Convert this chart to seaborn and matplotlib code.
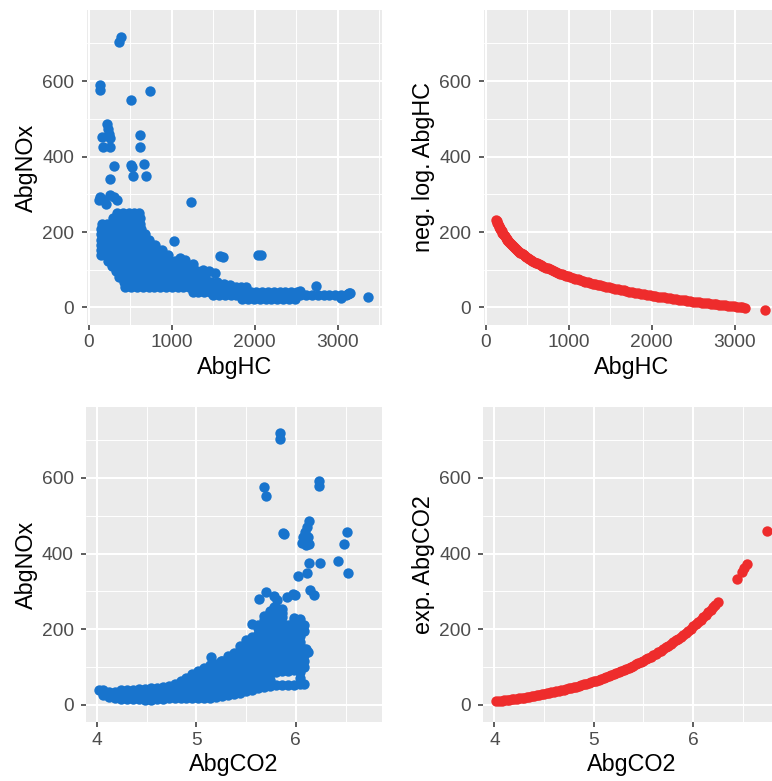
import matplotlib
matplotlib.use("Agg")
import matplotlib.pyplot as plt
from matplotlib.ticker import MultipleLocator
import pandas as pd
import seaborn as sns

# ---------------------------------------------------------------------------
# AbgHC vs AbgNOx: the dense band, written row by row (one NOx level per row)
# ---------------------------------------------------------------------------
hc_band_nox = [250, 236, 222, 208, 194, 180, 166, 152, 138, 124, 110, 96, 82, 68, 54, 40, 32, 22]
hc_band_hc = [
    [340, 410, 480, 550, 600],
    [290, 350, 420, 490, 560, 620],
    [160, 220, 280, 340, 410, 480, 550, 620],
    [150, 210, 270, 340, 410, 480, 550, 630],
    [150, 210, 270, 340, 410, 480, 550, 620, 680],
    [150, 210, 270, 340, 410, 480, 550, 620, 690, 730],
    [150, 210, 270, 340, 410, 480, 550, 620, 690, 760, 800],
    [150, 210, 270, 340, 410, 480, 550, 620, 690, 760, 830, 880],
    [150, 210, 270, 340, 410, 480, 550, 620, 690, 760, 830, 900, 960],
    [230, 290, 350, 410, 480, 550, 620, 690, 760, 830, 900, 970, 1040, 1100],
    [280, 340, 410, 480, 550, 620, 690, 760, 830, 900, 970, 1040, 1110, 1180],
    [330, 400, 470, 540, 610, 680, 750, 820, 890, 960, 1030, 1100, 1170, 1240, 1300],
    [370, 440, 510, 580, 650, 720, 790, 860, 930, 1000, 1070, 1140, 1210, 1280, 1350, 1400],
    [420, 490, 560, 630, 700, 770, 840, 910, 980, 1050, 1120, 1190, 1260, 1330, 1400, 1470, 1540],
    [440, 510, 580, 650, 720, 790, 860, 930, 1000, 1070, 1140, 1210, 1280, 1350, 1420,
     1490, 1560, 1630, 1700, 1770, 1840, 1900],
    [1250, 1320, 1390, 1460, 1530, 1600, 1670, 1740, 1810, 1880, 1950, 2020, 2090, 2160,
     2230, 2300, 2370, 2440, 2510],
    [1500, 1570, 1640, 1710, 1780, 1850, 1920, 1990, 2060, 2130, 2200, 2270, 2340, 2410,
     2480, 2550, 2620, 2690, 2760, 2830, 2900, 2970, 3040, 3100],
    [1850, 1920, 1990, 2060, 2130, 2200, 2270, 2340, 2410, 2480],
]

# AbgHC vs AbgNOx: scattered observations away from the band
hc_extra_hc = [388, 368, 132, 132, 512, 736, 220, 228, 240, 160, 260, 172, 252, 612, 620,
               300, 508, 520, 532, 668, 692, 252, 140, 120, 180, 260, 300, 340, 212, 1236,
               1028, 1580, 1620, 2040, 2080, 2740, 3368, 3132, 1100, 1160, 1260, 1380, 1450,
               1520, 1560, 1630, 1700, 2540, 3040, 3120, 3150]
hc_extra_nox = [718, 703, 589, 577, 551, 574, 485, 474, 461, 452, 448, 425, 425, 456, 425,
                374, 377, 371, 348, 380, 348, 340, 293, 285, 285, 298, 293, 285, 274, 280,
                177, 137, 133, 139, 139, 57, 29, 38, 132, 126, 114, 100, 96,
                92, 62, 62, 60, 44, 26, 36, 38]

# ---------------------------------------------------------------------------
# AbgCO2 vs AbgNOx: the dense band, written column by column
# ---------------------------------------------------------------------------
co2_band_co2 = [4.02, 4.06, 4.12, 4.18, 4.24, 4.30, 4.36, 4.42, 4.48, 4.54, 4.60, 4.66,
                4.72, 4.78, 4.84, 4.90, 4.96, 5.02, 5.08, 5.14, 5.20, 5.26, 5.32, 5.38,
                5.44, 5.50, 5.56, 5.62, 5.68, 5.74, 5.80, 5.86, 5.92, 5.98, 6.04, 6.08]
co2_band_nox = [
    [40],
    [26, 38],
    [20, 34],
    [18, 34],
    [16, 32, 38],
    [16, 32, 40],
    [14, 30, 40],
    [14, 30, 42],
    [13, 29, 42],
    [13, 29, 43],
    [14, 30, 44],
    [16, 32, 46],
    [18, 34, 50],
    [18, 34, 50, 56],
    [18, 34, 50, 62],
    [18, 34, 50, 66, 72],
    [18, 34, 50, 66, 80],
    [18, 34, 50, 66, 82, 90],
    [18, 34, 50, 66, 82, 96],
    [19, 35, 51, 67, 83, 99, 104],
    [20, 36, 52, 68, 84, 100, 108],
    [22, 38, 54, 70, 86, 102, 116],
    [25, 41, 57, 73, 89, 105, 121, 128],
    [28, 44, 60, 76, 92, 108, 124, 138],
    [32, 48, 64, 80, 96, 112, 128, 144, 156],
    [36, 52, 68, 84, 100, 116, 132, 148, 164, 170],
    [40, 56, 72, 88, 104, 120, 136, 152, 168, 178, 214],
    [44, 60, 76, 92, 108, 124, 140, 156, 172, 188, 204, 212],
    [48, 64, 80, 96, 112, 128, 144, 160, 176, 192, 208, 224, 236],
    [50, 66, 82, 98, 114, 130, 146, 162, 178, 194, 210, 226, 242, 248],
    [51, 86, 102, 118, 134, 150, 166, 182, 198, 214, 230, 246, 256],
    [52, 88, 104, 120, 136, 152, 168, 184, 200, 216, 232, 242],
    [52, 90, 106, 122, 138, 154, 170, 186, 202, 212],
    [53, 92, 108, 124, 140, 156, 172, 188, 204, 222, 230],
    [54, 70, 86, 102, 118, 134, 150, 166, 182, 198, 214, 226],
    [56, 100, 116, 132, 148, 196, 212],
]

# AbgCO2 vs AbgNOx: scattered observations away from the band
co2_extra_co2 = [5.836, 5.836, 5.682, 5.702, 6.238, 6.238, 5.883, 5.875, 6.519, 6.486,
                 6.429, 6.529, 6.245, 6.137, 6.110, 6.020, 6.137, 6.117, 6.094, 6.077,
                 6.127, 6.060, 6.104, 6.137, 6.144, 6.178, 5.625, 5.698, 5.782, 5.809,
                 5.910, 5.970, 5.990, 5.146, 5.246, 5.776, 5.860, 6.100, 6.120]
co2_extra_nox = [718, 703, 576, 553, 591, 579, 452, 455, 458, 425,
                 380, 349, 374, 374, 349, 341, 487, 471, 458, 445,
                 445, 429, 423, 425, 303, 290, 281, 299, 287, 276,
                 285, 292, 290, 126, 117, 259, 254, 148, 140]

# ---------------------------------------------------------------------------
# Transformed predictors on the NOx scale
# ---------------------------------------------------------------------------
neglog_hc = [126, 133, 140, 147, 155, 162, 170, 177, 185, 192, 200, 210, 220, 230, 240,
             250, 260, 270, 280, 290, 300, 312, 325, 337, 350, 362, 375, 387, 400, 415,
             430, 445, 460, 475, 490, 505, 520, 540, 560, 580, 600, 620, 640, 660, 680,
             700, 720, 745, 770, 795, 820, 845, 870, 895, 920, 945, 970, 995, 1020, 1050,
             1080, 1110, 1140, 1170, 1200, 1230, 1260, 1290, 1320, 1350, 1380, 1415, 1450,
             1485, 1520, 1555, 1590, 1625, 1660, 1695, 1730, 1765, 1800, 1835, 1870, 1905,
             1940, 1975, 2010, 2045, 2080, 2115, 2150, 2185, 2220, 2255, 2290, 2325, 2360,
             2395, 2430, 2465, 2500, 2535, 2570, 2605, 2640, 2675, 2710, 2745, 2780, 2815,
             2850, 2885, 2920, 2955, 2990, 3025, 3060, 3093, 3126, 3366]
neglog_val = [232.0, 228.1, 224.4, 220.8, 217.0, 213.8, 210.3, 207.4, 204.2, 201.5, 198.5,
              195.0, 191.6, 188.4, 185.3, 182.4, 179.5, 176.8, 174.2, 171.6, 169.2, 166.3,
              163.4, 160.7, 158.0, 155.5, 153.0, 150.7, 148.3, 145.6, 143.1, 140.6, 138.2,
              135.9, 133.6, 131.4, 129.3, 126.6, 123.9, 121.4, 118.9, 116.6, 114.3, 112.0,
              109.9, 107.8, 105.7, 103.3, 100.9, 98.6, 96.3, 94.1, 92.0, 90.0, 88.0, 86.0,
              84.1, 82.3, 80.5, 78.4, 76.4, 74.4, 72.4, 70.6, 68.7, 66.9, 65.2, 63.5, 61.8,
              60.2, 58.6, 56.8, 55.0, 53.3, 51.6, 49.9, 48.3, 46.8, 45.2, 43.7, 42.2, 40.8,
              39.4, 38.0, 36.6, 35.2, 33.9, 32.6, 31.4, 30.1, 28.9, 27.7, 26.5, 25.3, 24.2,
              23.0, 21.9, 20.8, 19.7, 18.7, 17.6, 16.6, 15.6, 14.5, 13.6, 12.6, 11.6, 10.6,
              9.7, 8.8, 7.9, 7.0, 6.1, 5.2, 4.3, 3.4, 2.6, 1.7, 0.9, 0.1, -0.6, -6.0]

exp_co2 = [4.017, 4.05, 4.075, 4.10, 4.125, 4.15, 4.175, 4.20, 4.225, 4.25, 4.275, 4.30,
           4.325, 4.35, 4.375, 4.40, 4.425, 4.45, 4.475, 4.50, 4.525, 4.55, 4.575, 4.60,
           4.625, 4.65, 4.675, 4.70, 4.725, 4.75, 4.775, 4.80, 4.825, 4.85, 4.875, 4.90,
           4.925, 4.95, 4.975, 5.00, 5.025, 5.05, 5.075, 5.10, 5.125, 5.15, 5.175, 5.20,
           5.225, 5.25, 5.275, 5.30, 5.325, 5.35, 5.375, 5.40, 5.425, 5.45, 5.475, 5.50,
           5.525, 5.55, 5.575, 5.60, 5.625, 5.65, 5.675, 5.70, 5.725, 5.75, 5.775, 5.80,
           5.825, 5.85, 5.875, 5.90, 5.925, 5.95, 5.975, 6.00, 6.025, 6.05, 6.075, 6.10,
           6.125, 6.15, 6.175, 6.20, 6.222, 6.246, 6.438, 6.49, 6.515, 6.542, 6.744]
exp_val = [8.8, 9.8, 10.6, 11.5, 12.4, 13.3, 14.2, 15.1, 16.1, 17.1, 18.1, 19.1,
           20.2, 21.3, 22.4, 23.5, 24.7, 25.9, 27.1, 28.4, 29.7, 31.0, 32.4, 33.8,
           35.2, 36.7, 38.2, 39.8, 41.4, 43.0, 44.7, 46.4, 48.1, 49.9, 51.8, 53.6,
           55.6, 57.6, 59.6, 61.7, 63.8, 66.0, 68.3, 70.6, 73.0, 75.4, 77.9, 80.4,
           83.0, 85.7, 88.5, 91.3, 94.2, 97.1, 100.2, 103.3, 106.5, 109.8, 113.1, 116.6,
           120.1, 123.7, 127.4, 131.2, 135.1, 139.1, 143.2, 147.5, 151.8, 156.2, 160.7, 165.4,
           170.1, 175.0, 180.0, 185.2, 190.4, 195.8, 201.4, 207.1, 212.9, 218.8, 225.0, 231.2,
           237.7, 244.3, 251.0, 258.0, 264.2, 270.9, 333.2, 352.2, 361.7, 372.2, 460.7]

BLUE = "#1874CD"
RED = "#EE2C2C"


def expand(levels, rows):
    """Repeat each level once per value in its row; return (levels, values)."""
    rep, vals = [], []
    for lev, row in zip(levels, rows):
        for v in row:
            rep.append(lev)
            vals.append(v)
    return rep, vals


hc_rep_nox, hc_vals = expand(hc_band_nox, hc_band_hc)
hc_df = pd.DataFrame({"AbgHC": hc_vals + hc_extra_hc,
                      "AbgNOx": hc_rep_nox + hc_extra_nox})

co2_rep, co2_nox_vals = expand(co2_band_co2, co2_band_nox)
co2_df = pd.DataFrame({"AbgCO2": co2_rep + co2_extra_co2,
                       "AbgNOx": co2_nox_vals + co2_extra_nox})

neglog_df = pd.DataFrame({"AbgHC": neglog_hc, "neg. log. AbgHC": neglog_val})
exp_df = pd.DataFrame({"AbgCO2": exp_co2, "exp. AbgCO2": exp_val})

sns.set_theme(style="darkgrid")
plt.rcParams["font.family"] = ["Liberation Sans", "DejaVu Sans"]

W, H = 772, 781
fig = plt.figure(figsize=(W / 100, H / 100), dpi=100)
fig.patch.set_facecolor("white")


def panel(left, top, width, height):
    return fig.add_axes([left / W, (H - top - height) / H, width / W, height / H])


ax_tl = panel(86.7, 10, 295, 315)
ax_tr = panel(483.7, 10, 295, 315)
ax_bl = panel(86.0, 406.7, 296, 315.6)
ax_br = panel(483.3, 406.7, 296, 315.6)

YLIM = (-46.5, 788.5)
MS = 56

sns.scatterplot(data=hc_df, x="AbgHC", y="AbgNOx", ax=ax_tl, color=BLUE, s=MS,
                linewidth=0, alpha=1)
sns.scatterplot(data=neglog_df, x="AbgHC", y="neg. log. AbgHC", ax=ax_tr, color=RED,
                s=MS, linewidth=0, alpha=1)
sns.scatterplot(data=co2_df, x="AbgCO2", y="AbgNOx", ax=ax_bl, color=BLUE, s=MS,
                linewidth=0, alpha=1)
sns.scatterplot(data=exp_df, x="AbgCO2", y="exp. AbgCO2", ax=ax_br, color=RED, s=MS,
                linewidth=0, alpha=1)

for ax in (ax_tl, ax_tr):
    ax.set_xlim(-25, 3530)
    ax.xaxis.set_major_locator(MultipleLocator(1000))
    ax.xaxis.set_minor_locator(MultipleLocator(500))
for ax in (ax_bl, ax_br):
    ax.set_xlim(3.889, 6.867)
    ax.xaxis.set_major_locator(MultipleLocator(1))
    ax.xaxis.set_minor_locator(MultipleLocator(0.5))

for ax in (ax_tl, ax_tr, ax_bl, ax_br):
    ax.set_ylim(*YLIM)
    ax.yaxis.set_major_locator(MultipleLocator(200))
    ax.yaxis.set_minor_locator(MultipleLocator(100))
    ax.set_facecolor("#EBEBEB")
    for sp in ax.spines.values():
        sp.set_visible(False)
    ax.set_axisbelow(True)
    ax.grid(True, which="major", color="white", linewidth=1.45)
    ax.grid(True, which="minor", color="white", linewidth=0.7)
    ax.tick_params(which="major", length=3.6, width=1.1, color="#333333",
                   labelsize=13.8, labelcolor="#4D4D4D", bottom=True, left=True)
    ax.tick_params(axis="x", which="major", pad=3.2)
    ax.tick_params(axis="y", which="major", pad=5.3)
    ax.tick_params(which="minor", length=0)
    ax.xaxis.label.set_size(16.8)
    ax.yaxis.label.set_size(16.8)
    ax.xaxis.label.set_color("black")
    ax.yaxis.label.set_color("black")
    ax.xaxis.labelpad = 3.0
    ax.yaxis.labelpad = 3.0

fig.savefig("out.png", dpi=100, facecolor="white")
